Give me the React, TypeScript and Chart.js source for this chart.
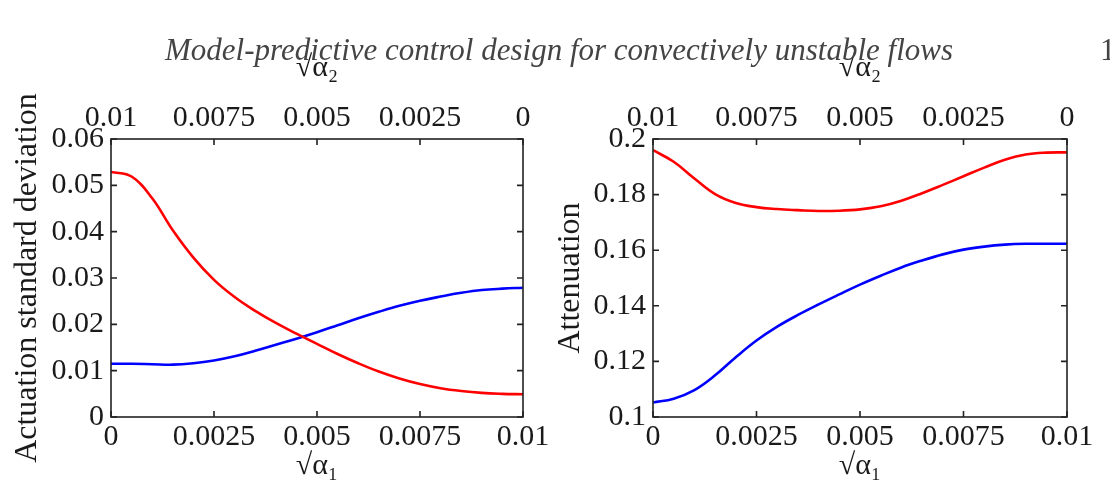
import React, { useEffect, useRef } from 'react';
import { Chart, registerables } from 'chart.js';

Chart.register(...registerables);

// ---------- data ----------
const xGrid = [0, 0.0005, 0.001, 0.0015, 0.002, 0.0025, 0.003, 0.0035, 0.004, 0.0045, 0.005,
  0.0055, 0.006, 0.0065, 0.007, 0.0075, 0.008, 0.0085, 0.009, 0.0095, 0.01];

const leftRed = [0.0529, 0.0519, 0.0472, 0.0403, 0.0344, 0.0296, 0.0259, 0.0229, 0.0203, 0.0180, 0.0158,
  0.0136, 0.0116, 0.0098, 0.0083, 0.0071, 0.0062, 0.0056, 0.0052, 0.0050, 0.0049];
const leftBlue = [0.0115, 0.0115, 0.0114, 0.0113, 0.0116, 0.0122, 0.0131, 0.0143, 0.0156, 0.0169, 0.0183,
  0.0198, 0.0213, 0.0227, 0.0240, 0.0251, 0.0260, 0.0268, 0.0274, 0.0277, 0.0279];

const rightRed = [0.1960, 0.1918, 0.1858, 0.1802, 0.1770, 0.1755, 0.1748, 0.1744, 0.1741, 0.1742, 0.1747,
  0.1758, 0.1778, 0.1805, 0.1835, 0.1866, 0.1897, 0.1925, 0.1944, 0.1951, 0.1952];
const rightBlue = [0.1052, 0.1066, 0.1097, 0.1150, 0.1215, 0.1275, 0.1325, 0.1367, 0.1405, 0.1441, 0.1476,
  0.1508, 0.1538, 0.1563, 0.1585, 0.1602, 0.1613, 0.1620, 0.1623, 0.1623, 0.1623];

const xTicks = [0, 0.0025, 0.005, 0.0075, 0.01];
const xTickLabels = ['0', '0.0025', '0.005', '0.0075', '0.01'];
const leftYTicks = [0, 0.01, 0.02, 0.03, 0.04, 0.05, 0.06];
const leftYTickLabels = ['0', '0.01', '0.02', '0.03', '0.04', '0.05', '0.06'];
const rightYTicks = [0.1, 0.12, 0.14, 0.16, 0.18, 0.2];
const rightYTickLabels = ['0.1', '0.12', '0.14', '0.16', '0.18', '0.2'];

const headerText = 'Model-predictive control design for convectively unstable flows';
const pageNumber = '1';
const bottomTitle = '\u221A\u03B1\u2081';
const topTitle = '\u221A\u03B1\u2082';
const leftYTitle = 'Actuation standard deviation';
const rightYTitle = 'Attenuation';

// ---------- styling ----------
const FONT = '"Liberation Serif", "DejaVu Serif", serif';
const TEXT = '#1a1a1a';
const TICK_SIZE = 30;
const YTITLE_SIZE = 32;
const XTITLE_SIZE = 30;

const frameTicks = {
  id: 'frameTicks',
  afterDatasetsDraw(chart: any) {
    const { ctx, chartArea: a, scales } = chart;
    const L = 6;
    ctx.save();
    ctx.strokeStyle = '#222';
    ctx.lineWidth = 1.6;
    ctx.beginPath();
    scales.x.ticks.forEach((t: any) => {
      const px = scales.x.getPixelForValue(t.value);
      ctx.moveTo(px, a.bottom);
      ctx.lineTo(px, a.bottom - L);
    });
    scales.x2.ticks.forEach((t: any) => {
      const px = scales.x2.getPixelForValue(t.value);
      ctx.moveTo(px, a.top);
      ctx.lineTo(px, a.top + L);
    });
    scales.y.ticks.forEach((t: any) => {
      const py = scales.y.getPixelForValue(t.value);
      ctx.moveTo(a.left, py);
      ctx.lineTo(a.left + L, py);
      ctx.moveTo(a.right, py);
      ctx.lineTo(a.right - L, py);
    });
    ctx.stroke();
    ctx.strokeRect(a.left, a.top, a.right - a.left, a.bottom - a.top);
    ctx.restore();
  },
};

type PanelCfg = {
  red: number[];
  blue: number[];
  yTicks: number[];
  yLabels: string[];
  yTitle: string;
  yWidth: number;
  padRight: number;
  yTitlePad: number;
};

function makeLabelMap(vals: number[], labels: string[]) {
  return (v: number) => {
    let best = 0;
    vals.forEach((tv, i) => {
      if (Math.abs(tv - v) < Math.abs(vals[best] - v)) best = i;
    });
    return labels[best];
  };
}

function Panel({ cfg, left }: { cfg: PanelCfg; left: number }) {
  const ref = useRef<HTMLCanvasElement>(null);
  useEffect(() => {
    const xLab = makeLabelMap(xTicks, xTickLabels);
    const yLab = makeLabelMap(cfg.yTicks, cfg.yLabels);
    const tickFont = { family: FONT, size: TICK_SIZE };
    const noGrid = { display: false, drawTicks: false, tickLength: 0 };
    const chart = new Chart(ref.current!, {
      type: 'line',
      data: {
        datasets: [
          {
            data: xGrid.map((x, i) => ({ x, y: cfg.red[i] })),
            borderColor: '#ff0000',
            borderWidth: 2.6,
            pointRadius: 0,
            tension: 0.4,
            xAxisID: 'x',
            yAxisID: 'y',
          },
          {
            data: xGrid.map((x, i) => ({ x, y: cfg.blue[i] })),
            borderColor: '#0000ff',
            borderWidth: 2.6,
            pointRadius: 0,
            tension: 0.4,
            xAxisID: 'x',
            yAxisID: 'y',
          },
        ],
      },
      options: {
        animation: false,
        responsive: false,
        maintainAspectRatio: false,
        events: [],
        layout: { padding: { left: 0, right: cfg.padRight, top: 0, bottom: 0 } },
        plugins: { legend: { display: false }, tooltip: { enabled: false }, title: { display: false } },
        scales: {
          x: {
            type: 'linear',
            position: 'bottom',
            min: 0,
            max: 0.01,
            afterBuildTicks: (s: any) => { s.ticks = xTicks.map((v) => ({ value: v })); },
            afterFit: (s: any) => { s.height = 72; },
            grid: noGrid,
            border: { display: false },
            ticks: { font: tickFont, color: TEXT, padding: 2, maxRotation: 0, autoSkip: false, callback: (v: any) => xLab(Number(v)) },
            title: { display: true, text: bottomTitle, font: { family: FONT, size: XTITLE_SIZE }, color: TEXT, padding: { top: 0, bottom: 5 } },
          },
          x2: {
            type: 'linear',
            position: 'top',
            min: 0,
            max: 0.01,
            reverse: true,
            afterBuildTicks: (s: any) => { s.ticks = xTicks.map((v) => ({ value: v })); },
            afterFit: (s: any) => { s.height = 139; },
            grid: noGrid,
            border: { display: false },
            ticks: { font: tickFont, color: TEXT, padding: 3, maxRotation: 0, autoSkip: false, callback: (v: any) => xLab(Number(v)) },
            title: { display: true, text: topTitle, font: { family: FONT, size: XTITLE_SIZE }, color: TEXT, padding: { top: 50, bottom: 0 } },
          },
          y: {
            type: 'linear',
            position: 'left',
            min: cfg.yTicks[0],
            max: cfg.yTicks[cfg.yTicks.length - 1],
            afterBuildTicks: (s: any) => { s.ticks = cfg.yTicks.map((v) => ({ value: v })); },
            afterFit: (s: any) => { s.width = cfg.yWidth; },
            grid: noGrid,
            border: { display: false },
            ticks: { font: tickFont, color: TEXT, padding: 7, autoSkip: false, callback: (v: any) => yLab(Number(v)) },
            title: { display: true, text: cfg.yTitle, font: { family: FONT, size: YTITLE_SIZE }, color: TEXT, padding: { top: cfg.yTitlePad, bottom: 0 } },
          },
        },
      } as any,
      plugins: [frameTicks],
    });
    return () => chart.destroy();
  }, [cfg]);
  return (
    <canvas
      ref={ref}
      width={555}
      height={489}
      style={{ position: 'absolute', left, top: 0, width: 555, height: 489 }}
    />
  );
}

const leftCfg: PanelCfg = {
  red: leftRed, blue: leftBlue, yTicks: leftYTicks, yLabels: leftYTickLabels,
  yTitle: leftYTitle, yWidth: 111, padRight: 32, yTitlePad: 8,
};
const rightCfg: PanelCfg = {
  red: rightRed, blue: rightBlue, yTicks: rightYTicks, yLabels: rightYTickLabels,
  yTitle: rightYTitle, yWidth: 98, padRight: 43, yTitlePad: -4,
};

export default function App() {
  return (
    <div style={{ position: 'absolute', left: 0, top: 0, width: 1110, height: 489, background: '#fff', overflow: 'hidden' }}>
      <Panel cfg={leftCfg} left={0} />
      <Panel cfg={rightCfg} left={555} />
      <div
        style={{
          position: 'absolute', left: 0, width: 1118, top: 32, textAlign: 'center',
          fontFamily: FONT, fontStyle: 'italic', fontSize: 31, color: '#444', lineHeight: '36px', whiteSpace: 'nowrap',
        }}
      >
        {headerText}
      </div>
      <div
        style={{
          position: 'absolute', left: 1100, top: 32, fontFamily: FONT, fontSize: 31, color: '#444', lineHeight: '36px',
        }}
      >
        {pageNumber}
      </div>
    </div>
  );
}
